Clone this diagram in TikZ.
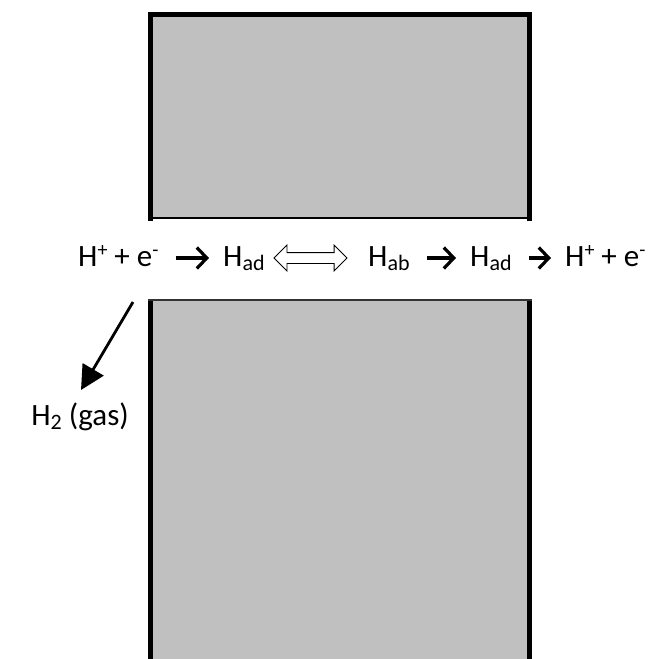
\documentclass[tikz,border=0pt]{standalone}
\usepackage{fontspec}
\setmainfont{Carlito}
\usetikzlibrary{arrows.meta,shapes.arrows}
\definecolor{boxgray}{RGB}{192,192,192}
\tikzset{
  chem/.style={inner sep=0pt, anchor=base west, text height=22pt, text depth=6pt, font=\fontsize{31}{33}\selectfont},
  chev/.style={line width=3.2pt, -{Straight Barb[length=10pt,width=21pt]}, shorten <=17pt, shorten >=14pt},
  dblarrow/.style={double arrow, draw=black, line width=0.8pt, fill=white, inner xsep=0pt, inner ysep=5pt,
    minimum height=73pt, minimum width=25pt, double arrow head extend=7.5pt},
  gasarrow/.style={line width=2.8pt, -{Triangle[length=24pt,width=24pt]}}
}
\newcommand{\chsub}[1]{\raisebox{-4.5pt}{\fontsize{22}{24}\selectfont #1}}
\newcommand{\chsup}[1]{\raisebox{10pt}{\fontsize{20}{22}\selectfont #1}}
\begin{document}
\begin{tikzpicture}[x=1pt,y=-1pt]
\useasboundingbox (0,0) rectangle (662,659);
% upper block
\fill[boxgray] (150.5,14.5) rectangle (529,218);
\draw[line width=5pt, line cap=rect] (150.5,218) -- (150.5,14.5) -- (529,14.5) -- (529,218);
\draw[line width=2pt] (150.5,218) -- (529,218);
% lower block
\fill[boxgray] (150.5,300) rectangle (529,670);
\draw[line width=5pt] (150.5,670) -- (150.5,299);
\draw[line width=5pt] (529,670) -- (529,299);
\draw[line width=2pt, black!80] (148,300) -- (531.5,300);
% reaction text
\node[chem] (n1) at (78,266) {H\chsup{+} + e\chsup{-}};
\node[chem] (n2) at (223,266) {H\chsub{ad}};
\node[dblarrow] (dbl) at (310.5,258) {};
\node[chem] (n3) at (368,266) {H\chsub{ab}};
\node[chem] (n4) at (470,266) {H\chsub{ad}};
\node[chem] (n5) at (565,266) {H\chsup{+} + e\chsup{-}};
\draw[chev] (n1.east) -- (n2.west);
\draw[chev] (n3.east) -- (n4.west);
\draw[chev] (n4.east) -- (n5.west);
% hydrogen gas
\node[chem, anchor=base east] (h2) at (129,425) {H\chsub{2} (gas)};
\coordinate (src) at (133,302);
\coordinate (tip) at (81,390);
\draw[gasarrow] (src) -- (tip);
\end{tikzpicture}
\end{document}
